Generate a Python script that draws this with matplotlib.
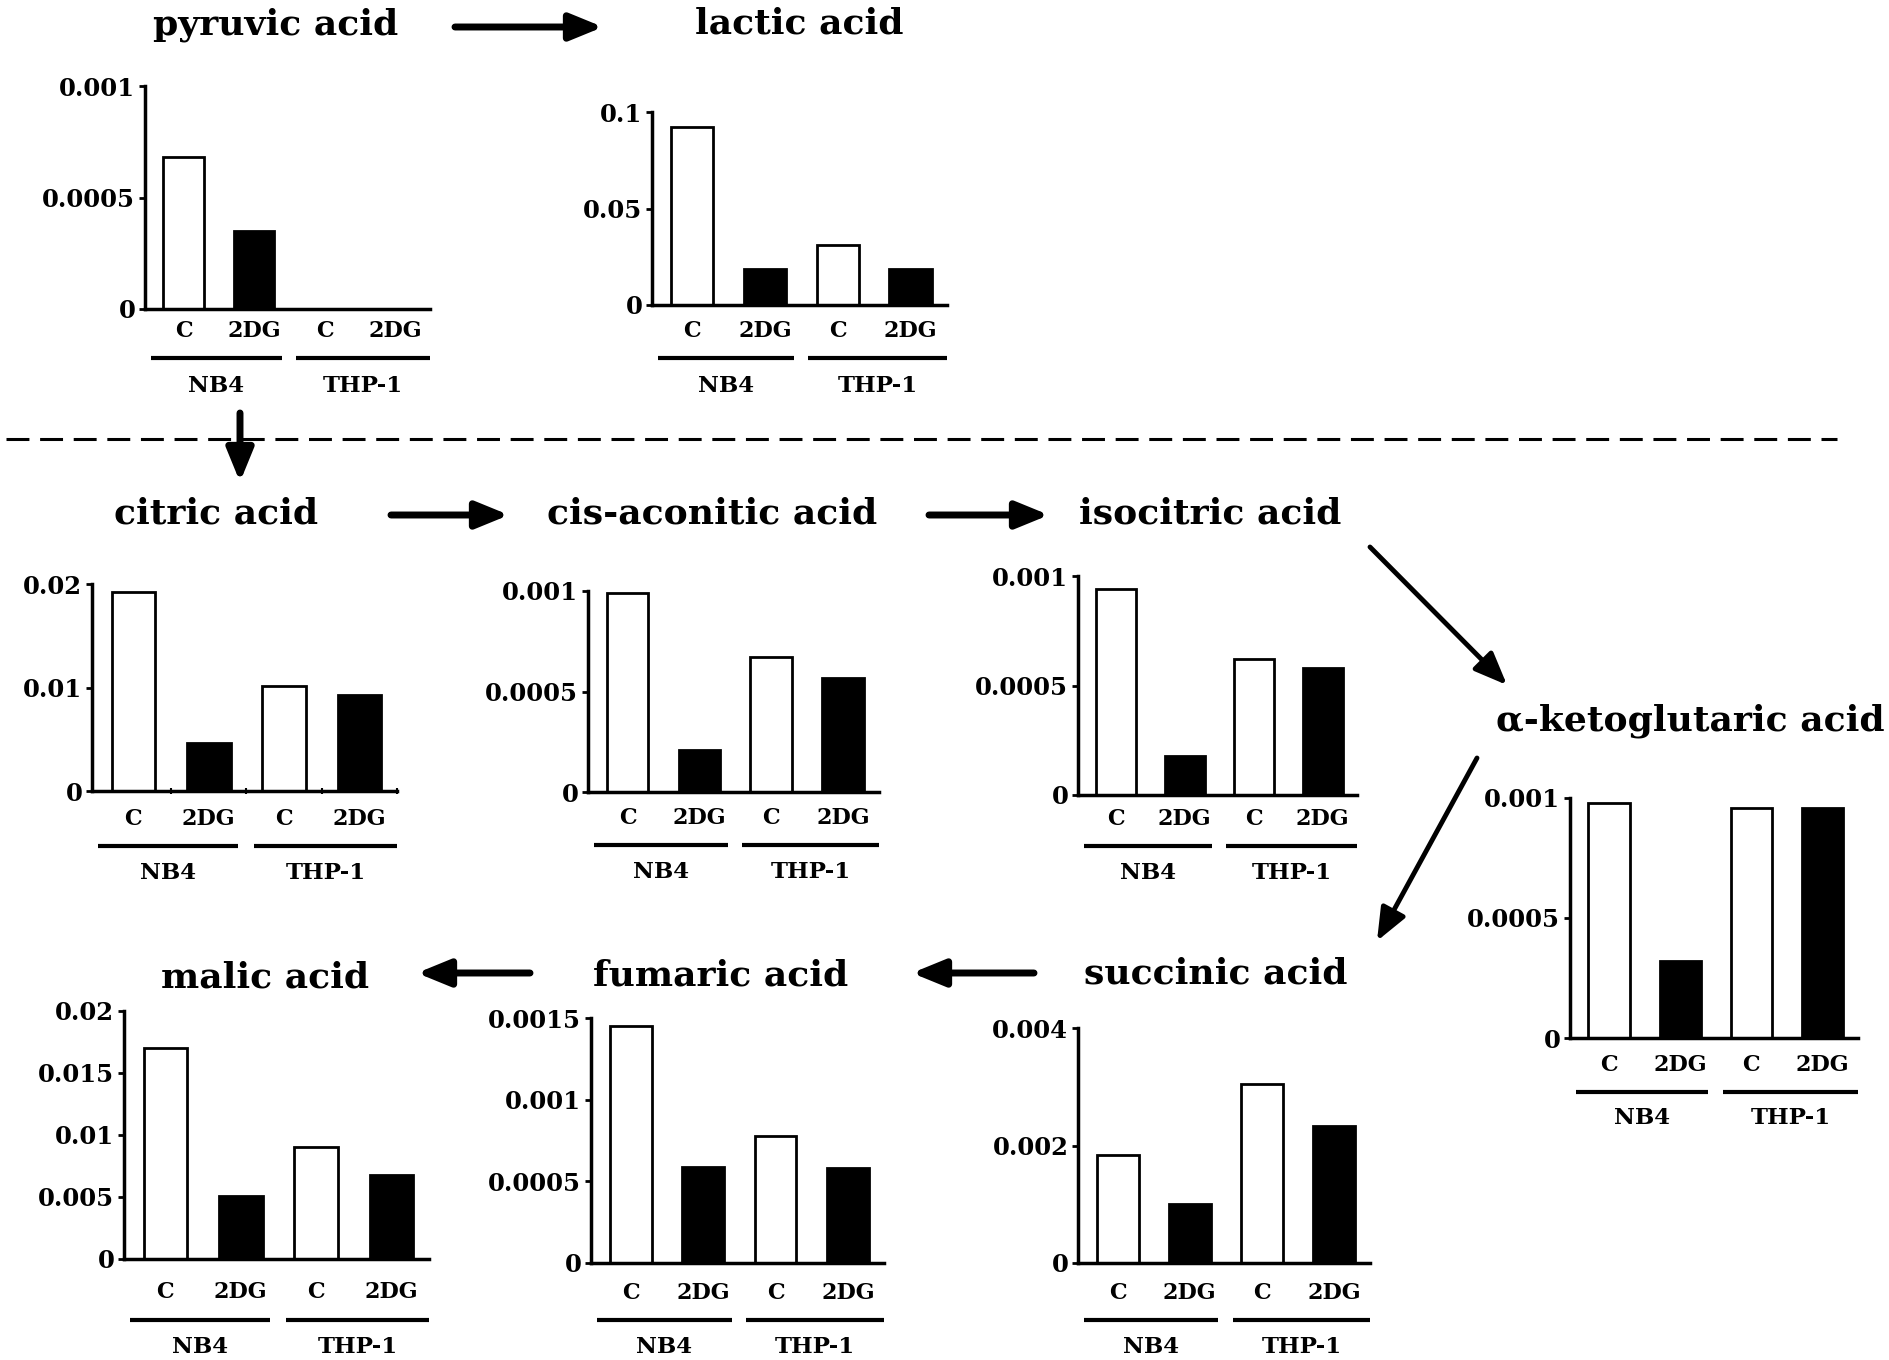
import numpy as np
import matplotlib.pyplot as plt
from matplotlib.transforms import offset_copy

W, H = 1890, 1360

groups = ['NB4', 'THP-1']
conditions = ['C', '2DG', 'C', '2DG']
bar_colors = ['white', 'black', 'white', 'black']

# measured values (relative amounts)
pyruvic = [0.00068, 0.00035, 0.0, 0.0]
lactic = [0.092, 0.0186, 0.0313, 0.0186]
citric = [0.0192, 0.0046, 0.0101, 0.0093]
cis_aconitic = [0.00099, 0.00021, 0.00067, 0.000565]
isocitric = [0.00094, 0.00018, 0.00062, 0.00058]
ketoglutaric = [0.00098, 0.00032, 0.00096, 0.00096]
malic = [0.0170, 0.0051, 0.0090, 0.0068]
fumaric = [0.00145, 0.00059, 0.000775, 0.00058]
succinic = [0.00184, 0.0010, 0.00304, 0.00234]

ticks_1e3 = [0, 0.0005, 0.001]
labels_1e3 = ['0', '0.0005', '0.001']

# title, values, yticks, ytick labels, axes box in px (left, right, top, zero),
# title pos px, offsets below zero line (category labels pad pt, group line px, group label px)
panels = [
    ('pyruvic acid', pyruvic, ticks_1e3, labels_1e3, (145, 430, 86, 309), (276, 34), (9, 49, 77)),
    ('lactic acid', lactic, [0, 0.05, 0.1], ['0', '0.05', '0.1'], (652, 947, 112, 305), (799, 34), (11.5, 53, 81)),
    ('citric acid', citric, [0, 0.01, 0.02], ['0', '0.01', '0.02'], (92, 397, 584, 791), (216, 524), (13, 55, 82)),
    ('cis-aconitic acid', cis_aconitic, ticks_1e3, labels_1e3, (588, 879, 591, 792), (712, 524), (12, 53, 80)),
    ('isocitric acid', isocitric, ticks_1e3, labels_1e3, (1078, 1357, 576, 795), (1210, 524), (10.5, 51, 78)),
    ('\u03b1-ketoglutaric acid', ketoglutaric, ticks_1e3, labels_1e3, (1570, 1858, 798, 1038), (1690, 731),
     (12.5, 54, 80)),
    ('malic acid', malic, [0, 0.005, 0.01, 0.015, 0.02], ['0', '0.005', '0.01', '0.015', '0.02'],
     (124, 429, 1011, 1259), (265, 987), (17, 61, 88)),
    ('fumaric acid', fumaric, [0, 0.0005, 0.001, 0.0015], ['0', '0.0005', '0.001', '0.0015'],
     (591, 884, 1018, 1263), (721, 985), (14.5, 57, 84)),
    ('succinic acid', succinic, [0, 0.002, 0.004], ['0', '0.002', '0.004'], (1078, 1370, 1028, 1263),
     (1216, 983), (14.5, 57, 84)),
]

# pathway arrows (px): start -> end
arrows = [
    ((455, 27), (603, 27)),
    ((240, 413), (240, 482)),
    ((391, 515), (509, 515)),
    ((929, 515), (1049, 515)),
    ((1370, 547), (1507, 685)),
    ((1477, 758), (1377, 941)),
    ((1034, 973), (912, 973)),
    ((530, 973), (417, 973)),
]

plt.rcParams['font.family'] = 'DejaVu Serif'

fig = plt.figure(figsize=(W / 100, H / 100), dpi=100)

# overlay for titles, arrows and the dashed separator
ov = fig.add_axes([0, 0, 1, 1])
ov.set_xlim(0, W)
ov.set_ylim(H, 0)
ov.axis('off')
ov.plot([6, 1837], [439, 439], color='black', lw=2.2, linestyle=(0, (7.5, 3.5)))
for i, (p0, p1) in enumerate(arrows):
    lw = 3.5 if i in (4, 5) else 5
    ov.annotate('', xy=p1, xytext=p0,
                arrowprops=dict(arrowstyle='-|>,head_length=1.1,head_width=0.45',
                                lw=lw, color='black', mutation_scale=18,
                                shrinkA=0, shrinkB=0))

for title, vals, yt, ytl, (xl, xr, yt_px, y0_px), (tx, ty), (pad, dl, dt) in panels:
    ov.text(tx, ty, title, ha='center', va='baseline', fontsize=26, fontweight='bold')

    ax = fig.add_axes([xl / W, 1 - y0_px / H, (xr - xl) / W, (y0_px - yt_px) / H])
    x = np.arange(len(vals))
    ax.bar(x, vals, width=0.58, color=bar_colors, edgecolor='black', linewidth=2, zorder=2)
    ax.set_xlim(-0.55, 3.5)
    ax.set_ylim(0, yt[-1])
    ax.set_yticks(yt, ytl)
    ax.set_xticks(x, conditions)
    for s in ['top', 'right']:
        ax.spines[s].set_visible(False)
    for s in ['left', 'bottom']:
        ax.spines[s].set_linewidth(2.5)
        ax.spines[s].set_zorder(3)
    ax.tick_params(axis='y', direction='out', length=4, width=2, pad=3, labelsize=17.5)
    ax.tick_params(axis='x', length=0, pad=pad - 1, labelsize=16)
    for lab in ax.get_xticklabels() + ax.get_yticklabels():
        lab.set_fontweight('bold')
    if title == 'citric acid':
        ax.set_xticks([0.5, 1.5, 2.5, 3.5], minor=True)
        ax.tick_params(axis='x', which='minor', direction='inout', length=5, width=1.5)

    tr_line = offset_copy(ax.transAxes, fig=fig, y=-dl, units='dots')
    tr_lab = offset_copy(ax.transAxes, fig=fig, y=-dt, units='dots')
    for (g0, g1), g in zip([(0.02, 0.48), (0.53, 1.0)], groups):
        ax.plot([g0, g1], [0, 0], transform=tr_line, color='black', lw=3,
                clip_on=False, solid_capstyle='butt')
        ax.text((g0 + g1) / 2, 0, g, transform=tr_lab, ha='center', va='center',
                fontsize=16.5, fontweight='bold')

fig.savefig('out.png', dpi=100)
